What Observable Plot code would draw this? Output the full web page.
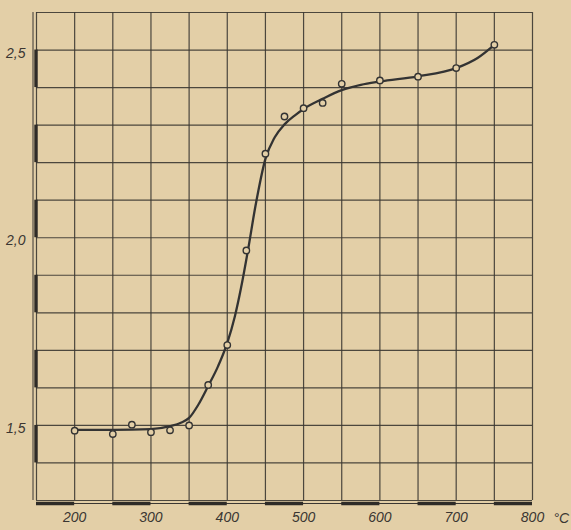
<!DOCTYPE html>
<html>
<head>
<meta charset="utf-8">
<script src="https://cdn.jsdelivr.net/npm/d3@7"></script>
<script src="https://cdn.jsdelivr.net/npm/@observablehq/plot@0.6"></script>
<style>
  html, body { margin: 0; padding: 0; background: #e3cfa7; }
  #chart svg { display: block; background: #e3cfa7; }
</style>
</head>
<body>
<div id="chart"></div>
<script>
// Measured points (temperature °C, value)
const pointT = [200, 250, 275, 300, 325, 350, 375, 400, 425, 450, 475, 500, 525, 550, 600, 650, 700, 750];
const pointV = [1.486, 1.477, 1.502, 1.482, 1.487, 1.50, 1.608, 1.714, 1.966, 2.224, 2.323, 2.345, 2.359, 2.41, 2.419, 2.429, 2.452, 2.514];

// Hand-drawn smooth curve
const curveT = [200, 250, 300, 325, 340, 350, 362, 375, 388, 400, 410, 418, 427, 437, 450, 462, 475, 490, 500, 525, 550, 575, 600, 650, 700, 728, 750];
const curveV = [1.488, 1.488, 1.490, 1.498, 1.508, 1.520, 1.555, 1.605, 1.658, 1.720, 1.791, 1.866, 1.965, 2.085, 2.210, 2.267, 2.302, 2.328, 2.343, 2.370, 2.393, 2.407, 2.416, 2.430, 2.452, 2.479, 2.514];

// Axis ticks and labels
const xTicks = [200, 300, 400, 500, 600, 700, 800];
const yTicks = [1.5, 2.0, 2.5];
const yLabels = ["1,5", "2,0", "2,5"];
const unitLabel = "°C";

// Grid
const xGrid = d3.range(150, 801, 50);
const yGrid = d3.range(13, 27).map(d => d / 10);
// Scale bars along the frame
const xBars = [[150, 200], [250, 300], [350, 400], [450, 500], [550, 600], [650, 700], [750, 800]];
const yBars = [[1.4, 1.5], [1.6, 1.7], [1.8, 1.9], [2.0, 2.1], [2.2, 2.3], [2.4, 2.5]];

const ink = "#3b3732";
const paper = "#e3cfa7";
const font = "'Liberation Sans Narrow', 'Liberation Sans', 'DejaVu Sans', sans-serif";

const points = pointT.map((t, i) => ({t, v: pointV[i]}));
const curve = curveT.map((t, i) => ({t, v: curveV[i]}));

const chart = Plot.plot({
  width: 571,
  height: 530,
  marginLeft: 36,
  marginRight: 39,
  marginTop: 12,
  marginBottom: 30,
  style: {background: paper, fontFamily: font, fontStyle: "italic", fontSize: "14px", color: "#3a3632"},
  x: {domain: [150, 800], label: null},
  y: {domain: [1.3, 2.6], label: null},
  marks: [
    Plot.ruleX(xGrid, {stroke: ink, strokeWidth: 1.2, strokeOpacity: 0.9}),
    Plot.ruleY(yGrid, {stroke: ink, strokeWidth: 1.2, strokeOpacity: 0.9}),
    // outer thin frame lines
    Plot.ruleX([150], {stroke: ink, strokeWidth: 1, dx: -3.5}),
    Plot.ruleY([1.3], {stroke: ink, strokeWidth: 1, dy: 3}),
    // thick scale bars
    Plot.ruleX(yBars, {x: () => 150, y1: d => d[0], y2: d => d[1], stroke: "#2e2b27", strokeWidth: 3.4, dx: -0.5}),
    Plot.ruleY(xBars, {y: () => 1.3, x1: d => d[0], x2: d => d[1], stroke: "#2e2b27", strokeWidth: 3.4, dy: 3}),
    Plot.line(curve, {x: "t", y: "v", curve: "monotone-x", stroke: "#333", strokeWidth: 2.3}),
    Plot.dot(points, {x: "t", y: "v", r: 3.2, fill: paper, stroke: "#333", strokeWidth: 1.4}),
    Plot.axisX(xTicks, {tickSize: 0, tickPadding: 12, fontSize: 14, fill: "#3a3632", label: null}),
    Plot.axisY(yTicks, {tickSize: 0, tickPadding: 11, fontSize: 14, fill: "#3a3632", dy: 3, label: null,
      tickFormat: (d) => yLabels[yTicks.indexOf(d)]}),
    Plot.text([unitLabel], {x: () => 800, y: () => 1.3, text: d => d, textAnchor: "start", dx: 21, dy: 18, fontSize: 14, fill: "#3a3632"})
  ]
});
document.getElementById("chart").appendChild(chart);
</script>
</body>
</html>
